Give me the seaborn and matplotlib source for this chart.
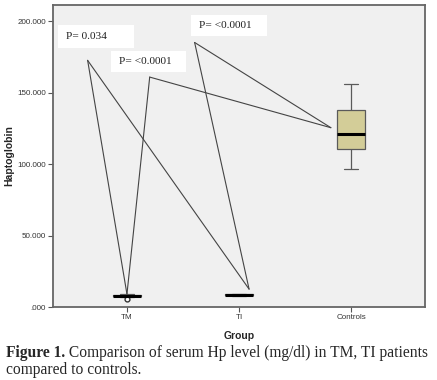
import pandas as pd
import numpy as np
import seaborn as sns
import matplotlib.pyplot as plt
from matplotlib.patches import Rectangle
from matplotlib.ticker import FuncFormatter

# groups and haptoglobin values (mg/dl)
groups = ["TM", "TI", "Controls"]
tm_values = [5.4, 7.3, 7.6, 7.9, 8.2, 8.5, 8.8]
ti_values = [8.0, 8.3, 8.6, 8.9, 9.2]
controls_values = [96.3, 110.7, 121.2, 137.8, 156.2]

# p-value call-outs: label, anchor point of the lines, groups it points to
p_labels = ["P= 0.034", "P= <0.0001", "P= <0.0001"]
p_anchor_x = [-0.351, 0.203, 0.604]
p_anchor_y = [172.5, 160.8, 185.0]
p_targets = [("TM", "TI"), ("TM", "Controls"), ("TI", "Controls")]
# where each line lands on the group (offset from category, value)
target_pts = {"TM": (0.0, 9.0), "TI": (1.09, 12.5), "Controls": (1.82, 125.4)}
# white label boxes (left, right, bottom, top) in data units
p_boxes = [(-0.616, 0.063, 181.1, 197.2),
           (-0.146, 0.524, 164.3, 179.2),
           (0.571, 1.25, 189.5, 204.2)]

rows = []
for g, vals in zip(groups, [tm_values, ti_values, controls_values]):
	for v in vals:
		rows.append({"Group": g, "Haptoglobin": v})
df = pd.DataFrame(rows)

sns.set_theme(style="white")
plt.rcParams['font.family'] = ['Liberation Sans', 'DejaVu Sans']

fig = plt.figure(figsize=(4.37, 3.80), dpi=100)
ax = fig.add_axes([0.1213, 0.1921, 0.8512, 0.7947])
ax.set_facecolor("#f0f0f0")

sns.boxplot(x="Group", y="Haptoglobin", data=df, order=groups, ax=ax,
	width=0.25, color="#d3cd98", saturation=1, linecolor="#5a5a5a", linewidth=0.9,
	medianprops={"color": "black", "linewidth": 2.2},
	flierprops={"marker": "o", "markerfacecolor": "white", "markeredgecolor": "#333333"},
	fliersize=3.5)

# call-out lines and labels
for lab, axx, ayy, tg, bx in zip(p_labels, p_anchor_x, p_anchor_y, p_targets, p_boxes):
	for t in tg:
		tx, ty = target_pts[t]
		ax.plot([axx, tx], [ayy, ty], color="#444444", lw=0.8, zorder=5)
	ax.add_patch(Rectangle((bx[0], bx[2]), bx[1] - bx[0], bx[3] - bx[2],
		facecolor="white", edgecolor="none", zorder=6))
	ax.text(bx[0] + 0.075, (bx[2] + bx[3]) / 2, lab, family="Liberation Serif",
		fontsize=8.2, va="center", ha="left", color="#222222", zorder=7)

ax.set_xlim(-0.66, 2.66)
ax.set_ylim(0, 211.2)
ax.set_yticks([0, 50, 100, 150, 200])
ax.yaxis.set_major_formatter(FuncFormatter(lambda v, p: ".000" if v == 0 else "{:.3f}".format(v)))
ax.tick_params(axis="both", labelsize=5.8, length=3.5, width=0.8, color="#555555",
	labelcolor="#333333", pad=1.5, direction="out", bottom=True, left=True)
ax.set_xlabel("Group", fontsize=7.5, fontweight="bold", labelpad=7)
ax.set_ylabel("Haptoglobin", fontsize=7.5, fontweight="bold", labelpad=2)
for s in ax.spines.values():
	s.set_color("#666666")
	s.set_linewidth(1.3)

# caption
t1 = fig.text(6 / 437, 1 - 357 / 380, "Figure 1.", family="Liberation Serif",
	fontsize=11.2, fontweight="bold", va="baseline", ha="left")
fig.canvas.draw()
ax.annotate(" Comparison of serum Hp level (mg/dl) in TM, TI patients", xy=(1, 0),
	xycoords=t1, va="bottom", ha="left", family="Liberation Serif", fontsize=11.2,
	annotation_clip=False)
fig.text(6 / 437, 1 - 374 / 380, "compared to controls.", family="Liberation Serif",
	fontsize=11.2, va="baseline", ha="left")

plt.savefig("out.png", dpi=100)
